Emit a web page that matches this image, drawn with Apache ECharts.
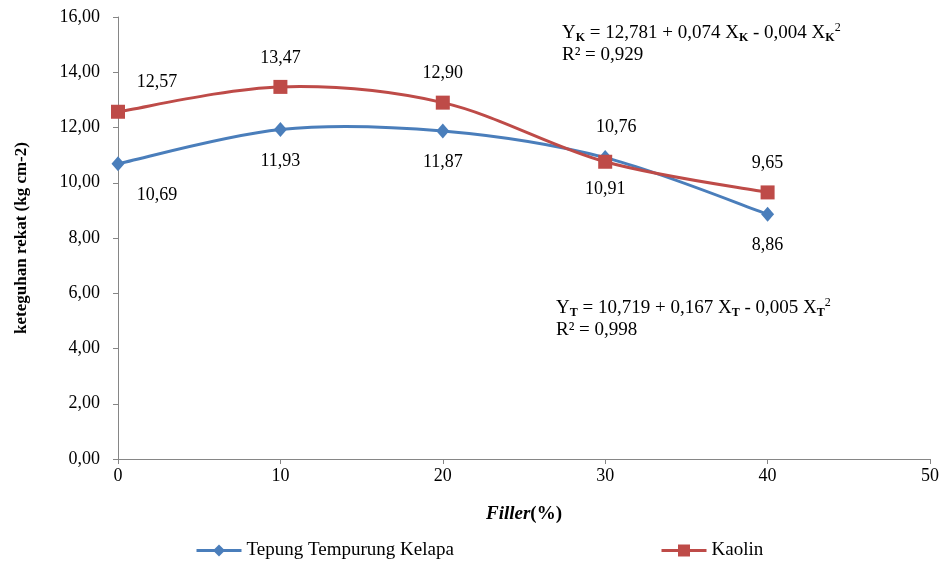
<!DOCTYPE html>
<html>
<head>
<meta charset="utf-8">
<script src="https://cdn.jsdelivr.net/npm/echarts@6/dist/echarts.min.js"></script>
<style>
html,body{margin:0;padding:0;background:#fff;}
#chart{width:943px;height:561px;}
</style>
</head>
<body>
<div id="chart"></div>
<script>
var fillerX = [0, 10, 20, 30, 40];
var tepungValues = [10.69, 11.93, 11.87, 10.91, 8.86];
var kaolinValues = [12.57, 13.47, 12.90, 10.76, 9.65];
var seriesNames = ['Tepung Tempurung Kelapa', 'Kaolin'];
var yTicks = [0, 2, 4, 6, 8, 10, 12, 14, 16];
var xTicks = [0, 10, 20, 30, 40, 50];

var FONT = '"Liberation Serif", "Times New Roman", serif';
var BLUE = '#4A7EBB';
var RED = '#BE4B48';

function comma(v) { return v.toFixed(2).replace('.', ','); }

function buildData(vals, offsets) {
  return vals.map(function (v, i) {
    var item = { value: [fillerX[i], v] };
    if (offsets[i]) item.label = { offset: offsets[i] };
    return item;
  });
}

// smooth curve segments (Excel-like Catmull-Rom), drawn through the axes' scales
function curveSeries(vals, color, z) {
  return {
    type: 'custom',
    coordinateSystem: 'cartesian2d',
    silent: true,
    z: z,
    encode: { x: 0, y: 1 },
    data: vals.map(function (v, i) { return [fillerX[i], v]; }),
    renderItem: function (params, api) {
      var i = params.dataIndex;
      var n = vals.length;
      if (i >= n - 1) return null;
      var P = function (j) {
        j = Math.max(0, Math.min(n - 1, j));
        return api.coord([fillerX[j], vals[j]]);
      };
      var p0 = P(i - 1), p1 = P(i), p2 = P(i + 1), p3 = P(i + 2);
      return {
        type: 'bezierCurve',
        shape: {
          x1: p1[0], y1: p1[1],
          x2: p2[0], y2: p2[1],
          cpx1: p1[0] + (p2[0] - p0[0]) / 6, cpy1: p1[1] + (p2[1] - p0[1]) / 6,
          cpx2: p2[0] - (p3[0] - p1[0]) / 6, cpy2: p2[1] - (p3[1] - p1[1]) / 6
        },
        style: { stroke: color, lineWidth: 3, fill: null, lineCap: 'round' }
      };
    }
  };
}

var chart = echarts.init(document.getElementById('chart'), null, { renderer: 'canvas' });

var labelStyle = {
  show: true,
  fontFamily: FONT,
  fontSize: 18,
  color: '#000',
  formatter: function (p) { return comma(p.value[1]); }
};

var baseRich = {
  n: { fontSize: 19, fontFamily: FONT, fill: '#000', lineHeight: 22, verticalAlign: 'middle' },
  s: { fontSize: 12, fontFamily: FONT, fontWeight: 'bold', fill: '#000', lineHeight: 12, verticalAlign: 'bottom' },
  p: { fontSize: 12, fontFamily: FONT, fill: '#000', lineHeight: 12, verticalAlign: 'top' }
};

function eqText(sub, a, b, c, r2) {
  return '{n|Y}{s|' + sub + '}{n| = ' + a + ' + ' + b + ' X}{s|' + sub + '}{n| - ' + c + ' X}{s|' + sub + '}{p|2}\n{n|R² = ' + r2 + '}';
}

var legendText = { fontFamily: FONT, fontSize: 19, color: '#000' };

var option = {
  animation: false,
  backgroundColor: '#fff',
  grid: { left: 118, right: 13, top: 17, bottom: 102, containLabel: false },
  xAxis: {
    type: 'value',
    min: 0, max: 50, interval: 10,
    name: '{a|Filler}{b|(%)}',
    nameLocation: 'middle',
    nameGap: 46,
    nameTextStyle: {
      rich: {
        a: { fontFamily: FONT, fontSize: 19, fontWeight: 'bold', fontStyle: 'italic', color: '#000' },
        b: { fontFamily: FONT, fontSize: 19, fontWeight: 'bold', color: '#000' }
      }
    },
    axisLine: { show: true, lineStyle: { color: '#868686', width: 1 } },
    axisTick: { show: true, length: 5, lineStyle: { color: '#868686' } },
    axisLabel: { fontFamily: FONT, fontSize: 18, color: '#000', margin: 8,
      formatter: function (v) { return String(v); } },
    splitLine: { show: false }
  },
  yAxis: {
    type: 'value',
    min: 0, max: 16, interval: 2,
    name: 'keteguhan rekat (kg cm-2)',
    nameLocation: 'middle',
    nameRotate: 90,
    nameGap: 88,
    nameTextStyle: { fontFamily: FONT, fontSize: 17, fontWeight: 'bold', color: '#000' },
    axisLine: { show: true, lineStyle: { color: '#868686', width: 1 } },
    axisTick: { show: true, length: 5, lineStyle: { color: '#868686' } },
    axisLabel: { fontFamily: FONT, fontSize: 18, color: '#000', margin: 18,
      formatter: function (v) { return comma(v); } },
    splitLine: { show: false }
  },
  legend: [
    {
      data: [seriesNames[0]], left: 190, top: 536,
      itemWidth: 45, itemHeight: 15, itemGap: 4,
      lineStyle: { color: BLUE, width: 3, opacity: 1 },
      textStyle: legendText
    },
    {
      data: [seriesNames[1]], left: 655, top: 536,
      itemWidth: 45, itemHeight: 15, itemGap: 4,
      lineStyle: { color: RED, width: 3, opacity: 1 },
      textStyle: legendText
    }
  ],
  series: [
    curveSeries(tepungValues, BLUE, 2),
    {
      name: seriesNames[0],
      type: 'line',
      symbol: 'diamond',
      symbolSize: [13, 15],
      lineStyle: { color: BLUE, width: 3, opacity: 0 },
      itemStyle: { color: BLUE, opacity: 1 },
      label: Object.assign({}, labelStyle, { position: 'bottom', distance: 15 }),
      data: buildData(tepungValues, [[39, 0], null, null, null, null]),
      z: 3
    },
    curveSeries(kaolinValues, RED, 4),
    {
      name: seriesNames[1],
      type: 'line',
      symbol: 'rect',
      symbolSize: 14,
      lineStyle: { color: RED, width: 3, opacity: 0 },
      itemStyle: { color: RED, opacity: 1 },
      label: Object.assign({}, labelStyle, { position: 'top', distance: 13 }),
      data: buildData(kaolinValues, [[39, 0], null, null, [11, -5], null]),
      z: 5
    }
  ],
  graphic: [
    {
      type: 'text', left: 562, top: 22,
      style: { text: eqText('K', '12,781', '0,074', '0,004', '0,929'), rich: baseRich, font: '19px ' + FONT, fill: '#000' }
    },
    {
      type: 'text', left: 556, top: 297,
      style: { text: eqText('T', '10,719', '0,167', '0,005', '0,998'), rich: baseRich, font: '19px ' + FONT, fill: '#000' }
    }
  ]
};

chart.setOption(option);
</script>
</body>
</html>
